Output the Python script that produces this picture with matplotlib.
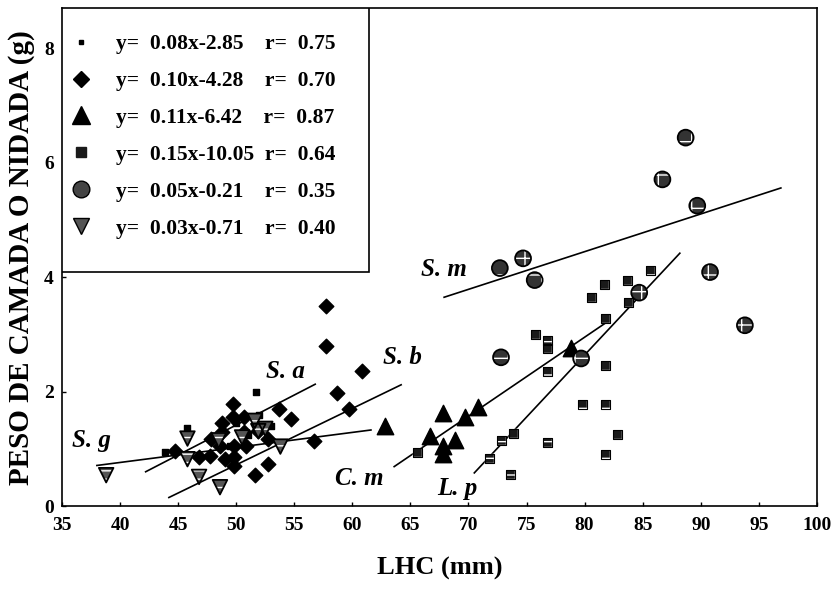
import matplotlib
matplotlib.use("Agg")
import matplotlib.pyplot as plt
from matplotlib.lines import Line2D
from matplotlib.patches import Rectangle

plt.rcParams['font.family'] = ['Liberation Serif', 'DejaVu Serif']
plt.rcParams['font.weight'] = 'bold'

# S. a  (small squares)
sa_x = [43.9, 45.8, 48.5, 49.5, 50.0, 51.0, 51.7, 52.0, 53.0]
sa_y = [0.95, 1.36, 1.25, 1.05, 1.45, 1.25, 2.00, 1.60, 1.40]
# S. b  (diamonds)
sb_x = [44.7, 46.8, 47.7, 47.8, 48.6, 48.8, 48.8, 49.0, 49.7, 49.7, 49.8, 49.8, 49.8,
        50.7, 50.7, 50.8, 51.6, 51.9, 52.7, 52.7, 53.7, 54.7, 56.7, 57.7, 57.7, 58.7,
        59.7, 60.8]
sb_y = [0.96, 0.85, 0.87, 1.18, 1.05, 1.45, 1.30, 0.82, 1.78, 1.55, 1.05, 0.85, 0.70,
        1.55, 1.30, 1.05, 0.55, 1.31, 1.18, 0.73, 1.69, 1.53, 1.13, 3.49, 2.80, 1.98,
        1.69, 2.36]
# C. m  (triangles)
cm_x = [62.8, 66.7, 67.8, 67.8, 67.8, 68.8, 69.7, 70.8, 78.8]
cm_y = [1.40, 1.22, 1.62, 1.05, 0.91, 1.15, 1.55, 1.73, 2.76]
# L. p  (squares)
lp_x = [65.6, 71.8, 72.8, 73.6, 73.9, 75.8, 76.8, 76.8, 76.8, 76.8, 79.8, 80.6,
        81.7, 81.8, 81.8, 81.8, 81.8, 82.8, 83.7, 83.8, 85.7]
lp_y = [0.94, 0.84, 1.15, 0.55, 1.27, 3.00, 2.75, 2.90, 2.36, 1.12, 1.78, 3.65,
        3.87, 3.27, 2.45, 1.78, 0.91, 1.25, 3.95, 3.55, 4.11]
# S. m  (circles)
sm_x = [72.8, 72.7, 74.7, 75.7, 79.7, 84.7, 86.7, 88.7, 89.7, 90.8, 93.8]
sm_y = [2.60, 4.16, 4.33, 3.95, 2.58, 3.73, 5.71, 6.44, 5.25, 4.09, 3.16]
# S. g  (inverted triangles)
sg_x = [38.8, 45.8, 45.8, 46.8, 48.5, 48.6, 50.5, 51.6, 51.9, 52.5, 53.8]
sg_y = [0.54, 1.18, 0.82, 0.51, 1.15, 0.33, 1.20, 1.49, 1.31, 1.35, 1.04]

# fitted lines as drawn (x start, x end, y start, y end)
line_x0 = {'sa': 42.2, 'sb': 44.2, 'cm': 63.6, 'lp': 70.5, 'sm': 67.9, 'sg': 38.0}
line_x1 = {'sa': 56.8, 'sb': 64.2, 'cm': 81.8, 'lp': 88.2, 'sm': 96.9, 'sg': 61.6}
line_y0 = {'sa': 0.60, 'sb': 0.15, 'cm': 0.69, 'lp': 0.58, 'sm': 3.65, 'sg': 0.71}
line_y1 = {'sa': 2.13, 'sb': 2.12, 'cm': 3.20, 'lp': 4.42, 'sm': 5.56, 'sg': 1.33}

legend_labels = [
    "y=  0.08x-2.85    r=  0.75",
    "y=  0.10x-4.28    r=  0.70",
    "y=  0.11x-6.42    r=  0.87",
    "y=  0.15x-10.05  r=  0.64",
    "y=  0.05x-0.21    r=  0.35",
    "y=  0.03x-0.71    r=  0.40",
]

species_names = ['S. a', 'S. b', 'S. g', 'S. m', 'C. m', 'L. p']
name_x = [54.2, 64.3, 37.5, 67.9, 60.6, 69.0]
name_y = [2.35, 2.60, 1.15, 4.14, 0.49, 0.31]

fig = plt.figure(figsize=(8.35, 5.94), dpi=100)
ax = fig.add_axes([0.0743, 0.148, 0.904, 0.838])

for k in line_x0:
    ax.plot([line_x0[k], line_x1[k]], [line_y0[k], line_y1[k]], color='black', lw=1.2, zorder=2)

ax.scatter(sa_x, sa_y, marker='s', s=14, c='black', zorder=3)
ax.scatter(sb_x, sb_y, marker='D', s=55, c='black', edgecolors='black', zorder=3)
ax.scatter(cm_x, cm_y, marker='^', s=140, c='black', zorder=3)
ax.scatter(lp_x, lp_y, marker='s', s=42, facecolors='#1a1a1a', edgecolors='white', hatch='-', linewidths=0.3, zorder=3)
ax.scatter(lp_x, lp_y, marker='s', s=42, facecolors='none', edgecolors='black', linewidths=0.8, zorder=3)
ax.scatter(sm_x, sm_y, marker='o', s=130, facecolors='#333333', edgecolors='white', hatch='+', linewidths=0.3, zorder=3)
ax.scatter(sm_x, sm_y, marker='o', s=130, facecolors='none', edgecolors='black', linewidths=1.3, zorder=3)
ax.scatter(sg_x, sg_y, marker='v', s=110, facecolors='#555555', edgecolors='white', hatch='--', linewidths=0.3, zorder=3)
ax.scatter(sg_x, sg_y, marker='v', s=110, facecolors='none', edgecolors='black', linewidths=1.3, zorder=3)

for nm, tx, ty in zip(species_names, name_x, name_y):
    ax.text(tx, ty, nm, fontsize=18, style='italic', fontweight='bold', ha='center', va='center')

ax.set_xlim(35, 100)
ax.set_ylim(0, 8.7)
ax.set_xticks(range(35, 101, 5))
ax.set_yticks([0, 2, 4, 6, 8])
ax.tick_params(direction='in', length=3, width=1, labelsize=14)
ax.tick_params(axis='x', pad=8)
ax.tick_params(axis='y', pad=6)
for lab in ax.get_xticklabels() + ax.get_yticklabels():
    lab.set_fontweight('bold')
for sp in ax.spines.values():
    sp.set_linewidth(1.2)

ax.set_xlabel("LHC (mm)", fontsize=19, fontweight='bold', labelpad=16)
ax.set_ylabel("PESO DE CAMADA O NIDADA (g)", fontsize=21, fontweight='bold', labelpad=6)

# legend box
ax.add_patch(Rectangle((0, 0.47), 0.406, 0.53, transform=ax.transAxes,
                       facecolor='white', edgecolor='black', lw=1.2, zorder=4))
handles = [
    Line2D([], [], ls='none', marker='s', ms=3.5, color='black'),
    Line2D([], [], ls='none', marker='D', ms=8.5, color='black'),
    Line2D([], [], ls='none', marker='^', ms=13, color='black'),
    Line2D([], [], ls='none', marker='s', ms=7, color='#1a1a1a'),
    Line2D([], [], ls='none', marker='o', ms=12, mfc='#444444', mec='black'),
    Line2D([], [], ls='none', marker='v', ms=12, mfc='#555555', mec='black'),
]
leg = ax.legend(handles, legend_labels, loc='upper left', bbox_to_anchor=(0.011, 0.948),
                borderaxespad=0, frameon=False, borderpad=0,
                prop={'family': 'Liberation Serif', 'weight': 'bold', 'size': 15.5},
                labelspacing=0.78, handlelength=1.0, handletextpad=1.1)
leg.set_zorder(5)

fig.savefig("out.png", dpi=100)
